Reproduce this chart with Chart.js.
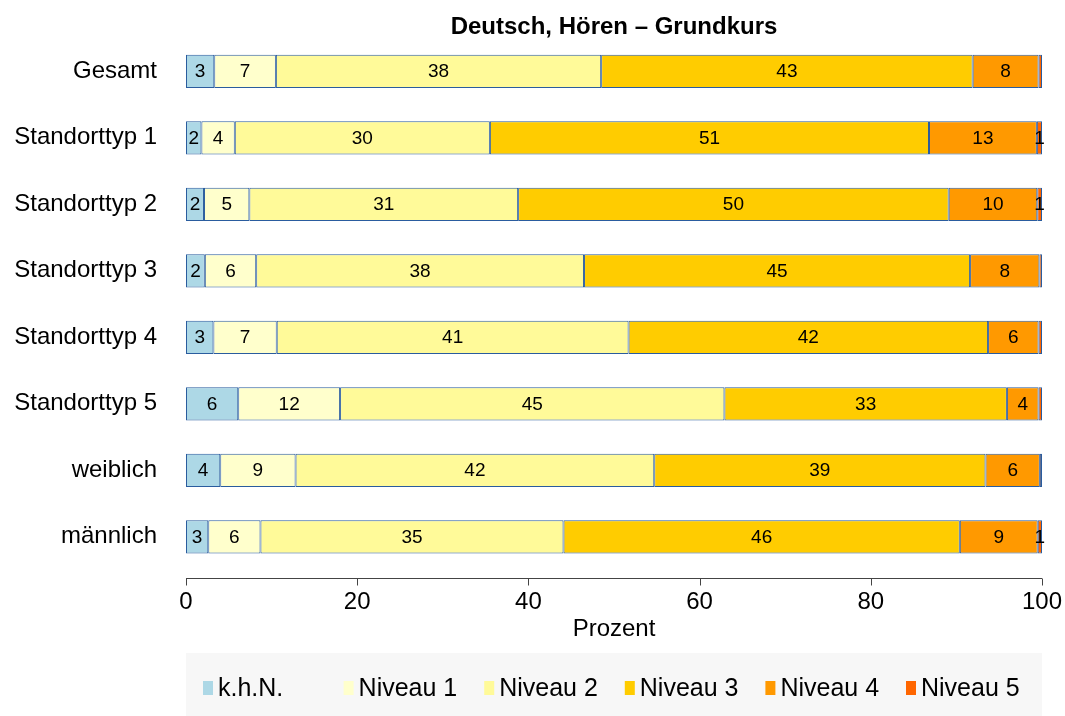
<!DOCTYPE html>
<html>
<head>
<meta charset="utf-8">
<script src="https://cdn.jsdelivr.net/npm/chart.js@4.4.1/dist/chart.umd.min.js"></script>
<style>
  html, body { margin: 0; padding: 0; background: #fff; }
  #wrap { width: 1065px; height: 716px; position: relative; }
</style>
</head>
<body>
<div id="wrap"><canvas id="chart" width="1065" height="716"></canvas></div>
<script>
const categories = ['Gesamt', 'Standorttyp 1', 'Standorttyp 2', 'Standorttyp 3',
  'Standorttyp 4', 'Standorttyp 5', 'weiblich', 'männlich'];
const seriesNames = ['k.h.N.', 'Niveau 1', 'Niveau 2', 'Niveau 3', 'Niveau 4', 'Niveau 5'];
const seriesColors = ['#ADD8E6', '#FFFFCC', '#FFFA99', '#FFCC00', '#FF9900', '#FF6600'];

// percent per group, one array per level
const khn    = [3.3, 1.8, 2.1, 2.2, 3.2, 6.1, 4.0, 2.6];
const niv1   = [7.2, 3.9, 5.3, 6.0, 7.4, 11.9, 8.8, 6.1];
const niv2   = [38.0, 29.8, 31.4, 38.3, 41.1, 44.9, 41.9, 35.4];
const niv3   = [43.4, 51.3, 50.3, 45.1, 42.0, 33.0, 38.7, 46.3];
const niv4   = [7.7, 12.6, 10.35, 8.1, 5.9, 3.7, 6.35, 9.1];
const niv5   = [0.4, 0.6, 0.55, 0.3, 0.4, 0.4, 0.25, 0.5];
const xTicks = [0, 20, 40, 60, 80, 100];

const title = 'Deutsch, Hören – Grundkurs';
const xTitle = 'Prozent';
const FONT = '"Liberation Sans", Arial, Helvetica, sans-serif';
const BORDER = '#2a5c9e';

const datasets = [khn, niv1, niv2, niv3, niv4, niv5].map((vals, i) => ({
  label: seriesNames[i],
  data: vals,
  backgroundColor: seriesColors[i],
  borderColor: BORDER,
  borderWidth: 1,
  borderSkipped: false,
  categoryPercentage: 1,
  barPercentage: 0.5
}));

// labels inside segments, title, x axis line, legend box
const extras = {
  id: 'extras',
  afterDatasetsDraw(chart) {
    const { ctx } = chart;
    ctx.save();
    ctx.font = '19px ' + FONT;
    ctx.fillStyle = '#000';
    ctx.textAlign = 'center';
    ctx.textBaseline = 'middle';
    chart.data.datasets.forEach((ds, di) => {
      chart.getDatasetMeta(di).data.forEach((bar, i) => {
        const v = Math.round(ds.data[i]);
        if (v < 1) return;
        const cx = (bar.x + bar.base) / 2;
        ctx.fillText(String(v), cx, bar.y + 1);
      });
    });
    ctx.restore();
  },
  afterDraw(chart) {
    const { ctx, chartArea } = chart;
    const xs = chart.scales.x;
    const mid = (chartArea.left + chartArea.right) / 2;
    ctx.save();
    // title
    ctx.font = 'bold 24px ' + FONT;
    ctx.fillStyle = '#000';
    ctx.textAlign = 'center';
    ctx.textBaseline = 'middle';
    ctx.fillText(title, mid, 27);
    // x axis line + tick marks
    const ay = chartArea.bottom + 8.5;
    ctx.strokeStyle = '#444';
    ctx.lineWidth = 1;
    ctx.beginPath();
    ctx.moveTo(xs.getPixelForValue(xTicks[0]), ay);
    ctx.lineTo(xs.getPixelForValue(xTicks[xTicks.length - 1]), ay);
    xTicks.forEach(t => {
      const px = Math.round(xs.getPixelForValue(t)) + 0.5;
      ctx.moveTo(px, ay);
      ctx.lineTo(px, ay + 7);
    });
    ctx.stroke();
    // axis title
    ctx.font = '24px ' + FONT;
    ctx.fillText(xTitle, mid, chartArea.bottom + 59);
    // legend
    const lx = chartArea.left, lw = chartArea.right - chartArea.left;
    ctx.fillStyle = '#f7f7f7';
    ctx.fillRect(lx, 653, lw, 63);
    const colW = 140.6;
    ctx.font = '25px ' + FONT;
    ctx.textAlign = 'left';
    seriesNames.forEach((name, i) => {
      const sx = lx + 17 + i * colW;
      ctx.fillStyle = seriesColors[i];
      ctx.fillRect(sx, 681, 10, 14);
      ctx.fillStyle = '#000';
      ctx.fillText(name, sx + 15, 689);
    });
    ctx.restore();
  }
};

Chart.defaults.font.family = FONT;
Chart.defaults.color = '#000';

new Chart(document.getElementById('chart'), {
  type: 'bar',
  data: { labels: categories, datasets },
  options: {
    indexAxis: 'y',
    responsive: false,
    animation: false,
    layout: { padding: { top: 38, right: 23, left: 0, bottom: 0 } },
    plugins: {
      legend: { display: false },
      tooltip: { enabled: false }
    },
    scales: {
      x: {
        stacked: true,
        min: 0,
        max: 100,
        grid: { display: false, drawTicks: false },
        border: { display: false },
        ticks: {
          stepSize: 20,
          padding: 18,
          maxRotation: 0,
          font: { size: 24 },
          callback: v => (xTicks.includes(v) ? String(v) : '')
        },
        afterFit(scale) {
          scale.height = 146;
          scale.paddingLeft = 0;
          scale.paddingRight = 0;
        }
      },
      y: {
        stacked: true,
        grid: { display: false, drawTicks: false },
        border: { display: false },
        ticks: { padding: 29, font: { size: 24 } },
        afterFit(scale) {
          scale.width = 186;
          scale.paddingTop = 0;
          scale.paddingBottom = 0;
        }
      }
    }
  },
  plugins: [extras]
});
</script>
</body>
</html>
